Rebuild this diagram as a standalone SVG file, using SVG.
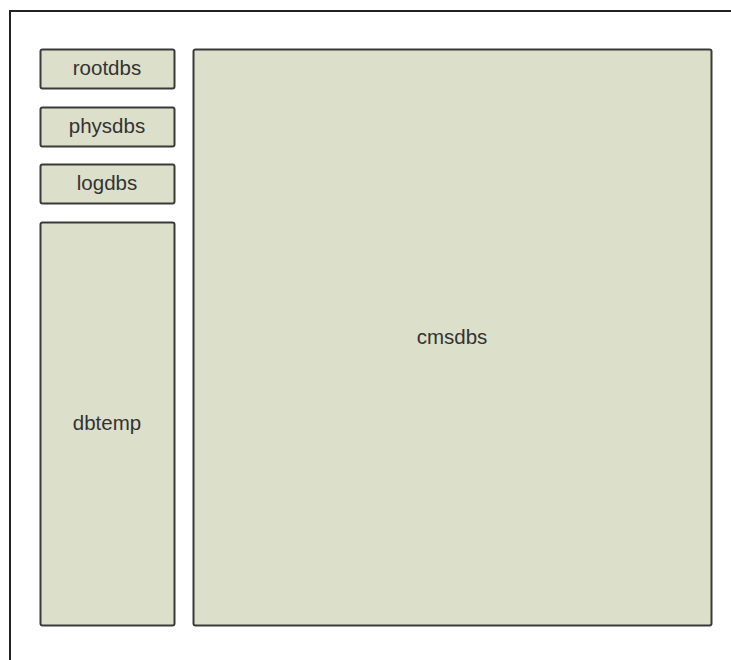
<svg xmlns="http://www.w3.org/2000/svg" width="731" height="660" viewBox="0 0 731 660">
<style>
.box{fill:#dcdfc9;stroke:#3a3a3a;stroke-width:2}
.lbl{font-family:"Liberation Sans",Arial,sans-serif;font-size:20.5px;fill:#333;text-anchor:middle}
</style>
<rect x="0" y="0" width="731" height="660" fill="#fff"/>
<rect id="frame" x="10" y="11" width="740" height="680" fill="none" stroke="#222" stroke-width="2"/>
<g id="rootdbs"><rect class="box" x="40.5" y="49.5" width="134" height="39" rx="2"/><text class="lbl" x="107" y="75">rootdbs</text></g>
<g id="physdbs"><rect class="box" x="40.5" y="107.5" width="134" height="39" rx="2"/><text class="lbl" x="107" y="133">physdbs</text></g>
<g id="logdbs"><rect class="box" x="40.5" y="164.5" width="134" height="39" rx="2"/><text class="lbl" x="107" y="190">logdbs</text></g>
<g id="dbtemp"><rect class="box" x="40.5" y="222.5" width="134" height="403" rx="2"/><text class="lbl" x="107" y="430">dbtemp</text></g>
<g id="cmsdbs"><rect class="box" x="193.5" y="49.5" width="518" height="576" rx="2"/><text class="lbl" x="452" y="344">cmsdbs</text></g>
<g id="connectors"></g>
</svg>
